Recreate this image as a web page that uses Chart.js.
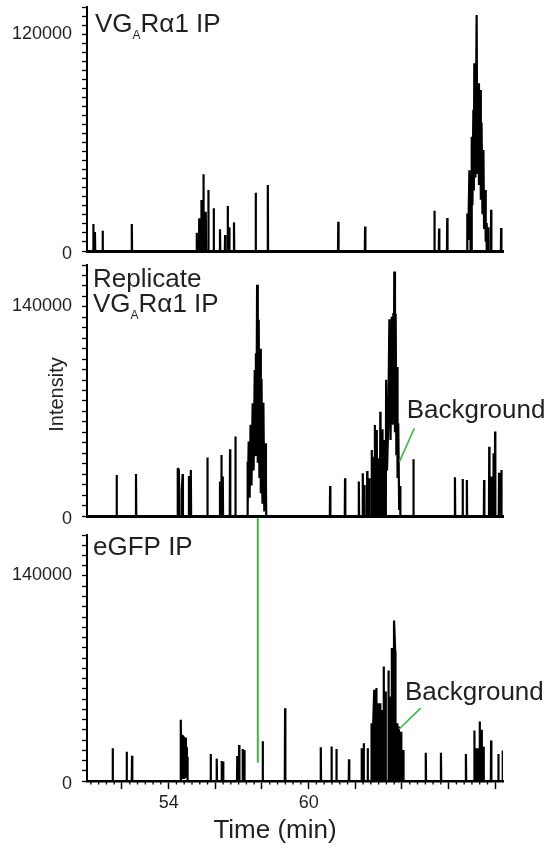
<!DOCTYPE html>
<html><head><meta charset="utf-8">
<script src="https://cdn.jsdelivr.net/npm/chart.js@4.4.1/dist/chart.umd.min.js"></script>
<style>
html,body{margin:0;padding:0;background:#fff;}
#wrap{position:relative;width:550px;height:848px;overflow:hidden;background:#fff;}
canvas{position:absolute;left:0;}
</style></head><body>
<div id="wrap">
<canvas id="c1" width="550" height="262" style="top:0;width:550px;height:262px"></canvas>
<canvas id="c2" width="550" height="274" style="top:258px;width:550px;height:274px"></canvas>
<canvas id="c3" width="550" height="332" style="top:516px;width:550px;height:332px"></canvas>
</div>
<script>
// ---- axis ranges / labels ----
const timeMin = 50.5, timeMax = 68.33;
const xTickLabels = [54, 60];
const yMax = [133000, 165000, 165000];
const yStep = [5000, 7000, 7000];
const yTickLabels = [[0, 120000], [0, 140000], [0, 140000]];

// ---- panel 1: VGARα1 IP ----
const p1Times = [50.77,50.84,51.17,52.42,55.20,55.31,55.40,55.49,55.59,55.70,55.93,56.20,56.42,56.53,56.60,56.80,57.73,58.25,61.27,62.42,65.39,65.59,65.94,
66.80,66.84,66.89,66.93,66.99,67.02,67.06,67.08,67.10,67.15,67.20,67.23,67.27,67.30,67.35,67.38,67.41,67.45,67.49,67.52,67.56,67.59,67.62,67.70,67.82,68.25];
const p1Values = [14700,10400,11000,14700,10000,17800,27800,41800,21400,33300,23300,11800,8700,24500,12900,15600,31800,36000,16000,13300,22000,12200,18000,
20500,6000,44000,15000,62300,25000,77000,33000,102400,40000,128700,42000,91500,36000,87800,28000,70000,20000,55100,12000,33300,5000,15300,13000,22500,12500];

// ---- panel 2: Replicate VGARα1 IP ----
const p2Times = [51.77,52.60,54.39,54.44,54.56,54.60,54.87,54.95,55.66,56.20,56.26,56.32,56.63,56.86,
57.37,57.40,57.43,57.47,57.51,57.55,57.60,57.64,57.69,57.72,57.74,57.76,57.79,57.82,57.86,57.89,57.92,57.95,57.98,58.02,58.06,58.10,58.13,58.17,
60.92,61.56,
62.15,62.32,62.39,62.51,62.60,62.70,62.78,62.84,62.92,62.99,63.07,63.16,63.24,
63.32,63.36,63.41,63.46,63.51,63.56,63.60,63.63,63.65,63.67,63.70,63.73,63.76,63.79,63.81,63.84,63.88,63.92,
64.49,66.27,66.60,66.78,67.52,67.74,67.82,67.92,67.99,68.16,68.26];
const p2Values = [27000,27600,31400,30300,17100,27600,26300,30300,38400,22600,40100,25900,43900,52200,
35700,5000,48900,12000,60000,20000,74100,30000,96000,40000,107000,45000,152000,35000,129000,25000,110000,15000,90000,8000,74500,3000,47800,20000,
19700,24800,
22600,28100,20400,29600,24800,43400,39000,59900,56600,38000,68600,57000,50000,
89500,30000,60000,129400,50000,131000,60000,133400,80000,160800,55000,133000,40000,98000,25000,61000,4000,19700,
37300,25400,24300,23700,23700,45600,25900,41200,55500,28500,30300];

// ---- panel 3: eGFP IP ----
const p3Times = [51.60,52.20,52.43,
54.52,54.54,54.56,54.58,54.60,54.62,54.64,54.66,54.68,54.70,54.72,54.74,54.76,54.78,54.80,
55.80,56.06,56.27,56.33,56.94,57.02,57.17,57.24,58.03,58.99,60.52,60.98,61.19,61.73,
62.27,62.36,62.53,62.69,62.76,62.81,62.90,62.99,63.06,63.13,63.22,63.30,63.42,63.49,63.56,63.66,63.71,63.79,63.87,63.96,64.06,
65.02,65.67,66.74,67.10,67.19,67.27,67.33,67.42,67.50,67.82,68.13,68.32];
const p3Values = [22000,19700,17000,
41000,2000,31000,2000,30900,2000,30000,2000,29400,2000,29000,2000,22600,2000,16300,
18100,15000,13400,13000,16800,24200,21500,20800,26700,48800,22600,23100,21500,14500,
22000,25300,22000,38800,34300,61200,62300,52200,52200,47700,76800,60000,74100,56700,89200,107700,86900,38800,36500,33000,20800,
19000,19000,18100,33800,22000,22000,39900,34300,23000,27100,18100,20400];

// ---- annotations (data space) ----
const markerTime = 57.82, markerLow = 12300;           // green line into eGFP panel
const bg2Label = [64.20, 64300], bg2Line = [[64.53, 57700], [63.89, 35700]];
const bg3Label = [64.13, 54000], bg3Line = [[64.80, 48900], [63.87, 34700]];
const vgTitle = [{t:'VG'},{t:'A',sub:true},{t:'R\u03B11 IP'}];

const FONT = "'Liberation Sans', Arial, Helvetica, sans-serif";
const TEXT = '#231f20', GREEN = '#3cb54a';

function trace(times, values){
  const pts = [{x:timeMin, y:0}];
  const eps = 0.012, gap = 0.055;
  for (let i = 0; i < times.length; i++){
    const t = times[i], v = values[i];
    const pt = i > 0 ? times[i-1] : -Infinity;
    const nt = i < times.length-1 ? times[i+1] : Infinity;
    if (t - pt > gap) pts.push({x:t-eps, y:0});
    pts.push({x:t, y:v});
    if (nt - t > gap) pts.push({x:t+eps, y:0});
  }
  pts.push({x:timeMax, y:0});
  return pts;
}

function drawParts(ctx, x, y, parts, size){
  let cx = x;
  for (const p of parts){
    const s = p.sub ? 12 : size;
    ctx.font = s + 'px ' + FONT;
    ctx.fillText(p.t, cx, p.sub ? y + 7 : y);
    cx += ctx.measureText(p.t).width;
  }
}

function drawYLabels(chart, idx){
  const {ctx, chartArea:a, scales:{y}} = chart;
  ctx.save();
  ctx.fillStyle = TEXT; ctx.font = '18px ' + FONT;
  ctx.textAlign = 'right'; ctx.textBaseline = 'middle';
  for (const L of yTickLabels[idx]){
    ctx.fillText(String(L), a.left - 15, y.getPixelForValue(L) + 3);
  }
  ctx.restore();
}

function drawBackground(chart, label, line){
  const {ctx, scales:{x, y}} = chart;
  ctx.save();
  ctx.strokeStyle = GREEN; ctx.lineWidth = 1.6;
  ctx.beginPath();
  ctx.moveTo(x.getPixelForValue(line[0][0]), y.getPixelForValue(line[0][1]));
  ctx.lineTo(x.getPixelForValue(line[1][0]), y.getPixelForValue(line[1][1]));
  ctx.stroke();
  ctx.fillStyle = TEXT; ctx.font = '26px ' + FONT; ctx.textBaseline = 'alphabetic';
  ctx.fillText('Background', x.getPixelForValue(label[0]), y.getPixelForValue(label[1]));
  ctx.restore();
}

function makeChart(id, idx, times, values, padTop, xHeight, bottomAxis, afterDraw){
  const xOpts = bottomAxis ? {
    type:'linear', min:timeMin, max:timeMax,
    border:{display:true, color:'#000', width:2.5},
    grid:{display:true, drawOnChartArea:false, drawTicks:true, tickLength:8, tickWidth:1.5, tickColor:'#000'},
    ticks:{stepSize:2, includeBounds:false, autoSkip:false, maxRotation:0, padding:3, color:TEXT,
      font:{family:FONT, size:18},
      callback:(v)=> xTickLabels.some(L => Math.abs(L - v) < 1e-6) ? String(Math.round(v)) : ''},
    afterFit(s){ s.height = xHeight; s.paddingLeft = 0; s.paddingRight = 0; }
  } : {
    type:'linear', min:timeMin, max:timeMax,
    border:{display:true, color:'#000', width:3},
    grid:{display:true, drawOnChartArea:false, drawTicks:false},
    ticks:{display:false},
    afterFit(s){ s.height = xHeight; s.paddingLeft = 0; s.paddingRight = 0; }
  };
  return new Chart(document.getElementById(id), {
    type:'line',
    data:{datasets:[{data:trace(times, values), borderColor:'#000', borderWidth:2.2,
      pointRadius:0, tension:0, borderJoinStyle:'bevel', fill:false}]},
    options:{
      responsive:false, animation:false, events:[],
      layout:{autoPadding:false, padding:{top:padTop, left:0, right:47, bottom:0}},
      plugins:{legend:{display:false}, tooltip:{enabled:false}},
      scales:{
        x:xOpts,
        y:{
          min:0, max:yMax[idx],
          border:{display:true, color:'#000', width:2},
          grid:{display:true, drawOnChartArea:false, drawTicks:true, tickLength:5, tickWidth:1.3, tickColor:'#000'},
          ticks:{stepSize:yStep[idx], includeBounds:false, autoSkip:false, padding:10,
            font:{family:FONT, size:18}, callback:()=>''},
          afterFit(s){ s.width = 87; s.paddingTop = 0; s.paddingBottom = 0; }
        }
      }
    },
    plugins:[{id:'ann'+idx, afterDraw(chart){ drawYLabels(chart, idx); afterDraw(chart); }}]
  });
}

makeChart('c1', 0, p1Times, p1Values, 7, 11, false, (chart)=>{
  const {ctx, chartArea:a} = chart;
  ctx.save(); ctx.fillStyle = TEXT; ctx.textBaseline = 'alphabetic';
  drawParts(ctx, a.left + 8, a.top + 25, vgTitle, 26);
  ctx.restore();
});

makeChart('c2', 1, p2Times, p2Values, 7, 16, false, (chart)=>{
  const {ctx, chartArea:a} = chart;
  ctx.save(); ctx.fillStyle = TEXT; ctx.textBaseline = 'alphabetic';
  drawParts(ctx, a.left + 6, a.top + 22, [{t:'Replicate'}], 26);
  drawParts(ctx, a.left + 6, a.top + 47, vgTitle, 26);
  ctx.translate(57, (a.top + a.bottom)/2 + 4);
  ctx.rotate(-Math.PI/2);
  ctx.font = '20px ' + FONT; ctx.textAlign = 'center'; ctx.textBaseline = 'middle';
  ctx.fillText('Intensity', 0, 0);
  ctx.restore();
  drawBackground(chart, bg2Label, bg2Line);
});

makeChart('c3', 2, p3Times, p3Values, 19, 67, true, (chart)=>{
  const {ctx, chartArea:a, scales:{x, y}} = chart;
  ctx.save();
  // minor x ticks every 1/3 min
  ctx.strokeStyle = '#000'; ctx.lineWidth = 1.3;
  ctx.beginPath();
  for (let k = Math.ceil(timeMin*3); k <= Math.floor(timeMax*3); k++){
    if (k % 6 === 0) continue;
    const px = x.getPixelForValue(k/3);
    ctx.moveTo(px, a.bottom); ctx.lineTo(px, a.bottom + 3.5);
  }
  ctx.stroke();
  // green marker line
  ctx.strokeStyle = GREEN; ctx.lineWidth = 2;
  ctx.beginPath();
  const mx = x.getPixelForValue(markerTime);
  ctx.moveTo(mx, 2); ctx.lineTo(mx, y.getPixelForValue(markerLow));
  ctx.stroke();
  // texts
  ctx.fillStyle = TEXT; ctx.textBaseline = 'alphabetic';
  drawParts(ctx, a.left + 6, a.top + 20, [{t:'eGFP IP'}], 26);
  ctx.font = '26px ' + FONT; ctx.textAlign = 'center';
  ctx.fillText('Time (min)', chart.width/2, a.bottom + 57);
  ctx.restore();
  drawBackground(chart, bg3Label, bg3Line);
});
</script>
</body></html>
